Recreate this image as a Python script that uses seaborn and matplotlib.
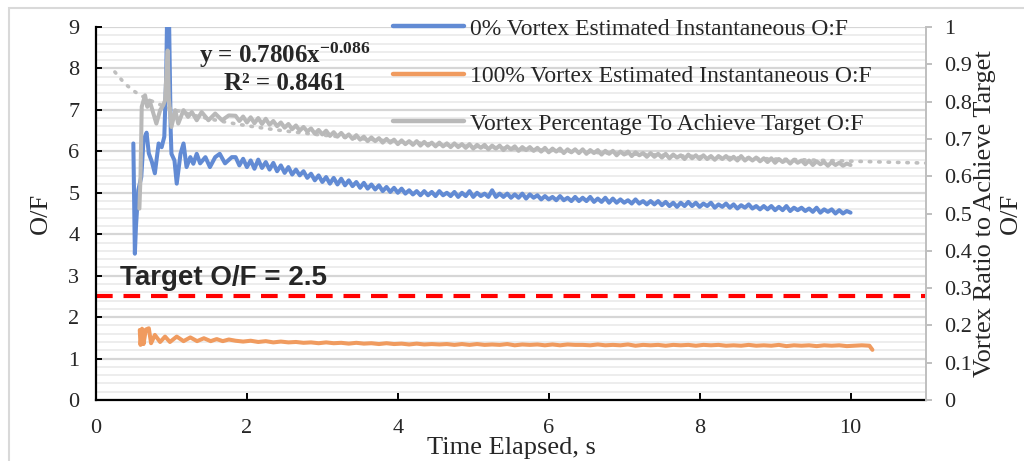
import numpy as np
import pandas as pd
import seaborn as sns
import matplotlib.pyplot as plt
from matplotlib.lines import Line2D
from matplotlib.patches import Rectangle
from matplotlib.ticker import MultipleLocator, FuncFormatter

# 0% vortex O:F - irregular start, then samples every 0.05 s from 1.85 s
BLUE_T0 = [0.495, 0.515, 0.53, 0.56, 0.60, 0.63, 0.67, 0.70, 0.74, 0.78, 0.83, 0.87,
           0.905, 0.93, 0.945, 0.965, 0.99, 1.0, 1.04, 1.07, 1.12, 1.16, 1.20, 1.25,
           1.29, 1.335, 1.38, 1.45, 1.51, 1.58, 1.64, 1.71, 1.80]
BLUE_Y0 = [6.19, 3.53, 4.20, 5.06, 5.38, 6.27, 6.45, 5.95, 5.75, 5.47, 6.19, 6.10,
           6.35, 7.80, 9.60, 9.60, 6.50, 5.94, 5.78, 5.22, 5.94, 6.19, 5.62, 5.86,
           5.70, 5.94, 5.71, 5.86, 5.62, 5.86, 5.94, 5.71, 5.86]
BLUE_Y = [5.86, 5.66, 5.82, 5.62, 5.78, 5.58, 5.80, 5.60, 5.74, 5.56,
          5.72, 5.52, 5.66, 5.48, 5.62, 5.44, 5.56, 5.42, 5.52, 5.36,
          5.46, 5.30, 5.42, 5.26, 5.38, 5.22, 5.36, 5.20, 5.34, 5.18,
          5.30, 5.16, 5.26, 5.12, 5.24, 5.10, 5.20, 5.08, 5.18, 5.04,
          5.14, 5.02, 5.12, 5.00, 5.10, 4.98, 5.06, 4.96, 5.04, 4.94,
          5.04, 4.94, 5.02, 4.92, 5.04, 4.94, 5.00, 4.92, 5.02, 4.90,
          5.00, 4.92, 5.04, 4.90, 5.00, 4.92, 4.98, 4.90, 5.06, 4.90,
          4.98, 4.90, 4.98, 4.88, 4.96, 4.88, 4.98, 4.86, 4.96, 4.88,
          4.94, 4.84, 4.92, 4.84, 4.90, 4.82, 4.92, 4.82, 4.88, 4.80,
          4.90, 4.80, 4.88, 4.80, 4.90, 4.78, 4.86, 4.78, 4.88, 4.76,
          4.86, 4.76, 4.84, 4.76, 4.82, 4.74, 4.84, 4.74, 4.80, 4.72,
          4.80, 4.72, 4.80, 4.70, 4.78, 4.68, 4.76, 4.66, 4.76, 4.68,
          4.78, 4.68, 4.76, 4.66, 4.74, 4.68, 4.76, 4.64, 4.72, 4.66,
          4.74, 4.64, 4.72, 4.62, 4.70, 4.64, 4.72, 4.62, 4.68, 4.60,
          4.68, 4.60, 4.68, 4.58, 4.66, 4.58, 4.68, 4.56, 4.64, 4.58,
          4.64, 4.56, 4.62, 4.54, 4.64, 4.52, 4.60, 4.54, 4.60, 4.50,
          4.58, 4.50, 4.56, 4.52]

# vortex ratio to hit target (secondary axis)
GRAY_T0 = [0.575, 0.59, 0.606, 0.65, 0.68, 0.71, 0.76, 0.80, 0.85, 0.89, 0.915,
           0.95, 0.965, 1.0, 1.05, 1.09, 1.16, 1.22, 1.27, 1.335, 1.40, 1.49, 1.58,
           1.67, 1.76]
GRAY_Y0 = [0.513, 0.600, 0.786, 0.817, 0.786, 0.803, 0.768, 0.741, 0.777, 0.790, 0.803,
           0.937, 0.810, 0.732, 0.777, 0.741, 0.777, 0.759, 0.772, 0.750, 0.772, 0.750,
           0.768, 0.750, 0.763]
GRAY_Y = [0.762, 0.748, 0.760, 0.744, 0.758, 0.742, 0.756, 0.740, 0.754, 0.738,
          0.748, 0.734, 0.744, 0.730, 0.740, 0.726, 0.736, 0.722, 0.732, 0.720,
          0.728, 0.714, 0.724, 0.712, 0.722, 0.708, 0.718, 0.706, 0.716, 0.704,
          0.712, 0.700, 0.710, 0.698, 0.706, 0.694, 0.704, 0.694, 0.702, 0.690,
          0.700, 0.690, 0.698, 0.686, 0.696, 0.686, 0.694, 0.684, 0.694, 0.682,
          0.692, 0.682, 0.690, 0.680, 0.690, 0.680, 0.688, 0.678, 0.688, 0.678,
          0.686, 0.676, 0.686, 0.674, 0.684, 0.676, 0.684, 0.672, 0.682, 0.674,
          0.682, 0.670, 0.680, 0.672, 0.680, 0.668, 0.678, 0.670, 0.678, 0.668,
          0.676, 0.666, 0.676, 0.664, 0.674, 0.666, 0.674, 0.662, 0.672, 0.664,
          0.672, 0.662, 0.672, 0.660, 0.670, 0.662, 0.670, 0.658, 0.668, 0.660,
          0.668, 0.656, 0.666, 0.658, 0.666, 0.654, 0.664, 0.656, 0.662, 0.652,
          0.662, 0.652, 0.660, 0.650, 0.660, 0.648, 0.658, 0.650, 0.656, 0.646,
          0.658, 0.648, 0.656, 0.646, 0.656, 0.646, 0.654, 0.644, 0.654, 0.646,
          0.654, 0.644, 0.652, 0.642, 0.654, 0.642, 0.650, 0.642, 0.650, 0.640,
          0.648, 0.638, 0.648, 0.636, 0.646, 0.638, 0.644, 0.634, 0.644, 0.636,
          0.642, 0.632, 0.642, 0.630, 0.640, 0.632, 0.638, 0.628, 0.638, 0.630,
          0.636, 0.628, 0.634, 0.630]

# 100% vortex O:F - irregular start, then every 0.1 s from 1.85 s
ORANGE_T0 = [0.58, 0.59, 0.61, 0.63, 0.66, 0.70, 0.73, 0.78, 0.85, 0.915, 0.98,
             1.07, 1.16, 1.25, 1.34, 1.43, 1.52, 1.60, 1.68, 1.76]
ORANGE_Y0 = [1.69, 1.33, 1.72, 1.35, 1.70, 1.73, 1.37, 1.57, 1.40, 1.53, 1.40,
             1.53, 1.42, 1.51, 1.42, 1.49, 1.42, 1.47, 1.42, 1.46]
ORANGE_Y = [1.43, 1.41, 1.43, 1.40, 1.42, 1.39, 1.41, 1.39, 1.40, 1.38,
            1.39, 1.37, 1.39, 1.37, 1.38, 1.36, 1.38, 1.36, 1.37, 1.35,
            1.37, 1.35, 1.36, 1.34, 1.36, 1.34, 1.35, 1.34, 1.35, 1.33,
            1.35, 1.33, 1.35, 1.33, 1.34, 1.33, 1.35, 1.32, 1.34, 1.33,
            1.34, 1.32, 1.34, 1.32, 1.34, 1.33, 1.33, 1.32, 1.34, 1.32,
            1.33, 1.32, 1.34, 1.31, 1.33, 1.32, 1.33, 1.31, 1.33, 1.32,
            1.33, 1.31, 1.33, 1.32, 1.33, 1.31, 1.32, 1.31, 1.33, 1.31,
            1.32, 1.31, 1.33, 1.30, 1.32, 1.31, 1.32, 1.30, 1.32, 1.31,
            1.32, 1.30, 1.31, 1.32, 1.31]
ORANGE_T_END = [10.29]
ORANGE_Y_END = [1.21]

# Excel power trendline of the gray series
TREND_A = 0.7806
TREND_B = -0.086
TREND_X = np.linspace(0.25, 11, 80)
TARGET_OF = 2.5

LABELS = ['0% Vortex Estimated Instantaneous O:F',
          '100% Vortex Estimated Instantaneous O:F',
          'Vortex Percentage To Achieve Target O:F']
BLUE, ORANGE, GRAY = '#628BD4', '#F09B5F', '#B9B9B9'


def series(t0, y0, y, start, step, t_end=(), y_end=()):
    t = np.round(start + step * np.arange(len(y)), 3)
    return pd.DataFrame({'t': list(t0) + list(t) + list(t_end),
                         'v': list(y0) + list(y) + list(y_end)})


df_blue = series(BLUE_T0, BLUE_Y0, BLUE_Y, 1.85, 0.05)
df_gray = series(GRAY_T0, GRAY_Y0, GRAY_Y, 1.85, 0.05)
df_orange = series(ORANGE_T0, ORANGE_Y0, ORANGE_Y, 1.85, 0.1, ORANGE_T_END, ORANGE_Y_END)
df_trend = pd.DataFrame({'t': TREND_X, 'v': TREND_A * TREND_X ** TREND_B})

sns.set_style('white')
plt.rcParams['font.family'] = ['Liberation Serif', 'DejaVu Sans']
plt.rcParams['mathtext.fontset'] = 'custom'
plt.rcParams['mathtext.rm'] = 'Liberation Serif:bold'
plt.rcParams['mathtext.bf'] = 'Liberation Serif:bold'
plt.rcParams['mathtext.it'] = 'Liberation Serif:bold:italic'

fig = plt.figure(figsize=(10.24, 4.61), dpi=100)
fig.patches.append(Rectangle((9 / 1024, -0.1), 1.2, 1.1 - 8 / 461, transform=fig.transFigure,
                             fill=False, edgecolor='#D9D9D9', lw=1.5))
ax = fig.add_axes([96 / 1024, 61 / 461, 830 / 1024, 373 / 461])
ax2 = ax.twinx()

sns.lineplot(data=df_blue, x='t', y='v', color=BLUE, lw=2.9, sort=False, estimator=None, ax=ax)
sns.lineplot(data=df_orange, x='t', y='v', color=ORANGE, lw=2.9, sort=False, estimator=None, ax=ax)
ax.axhline(TARGET_OF, color='red', lw=3, dashes=(4, 2.6))
sns.lineplot(data=df_trend, x='t', y='v', color='#BFBFBF', lw=2.6, ax=ax2,
             linestyle=(0, (0.4, 2.2)), dash_capstyle='round')
sns.lineplot(data=df_gray, x='t', y='v', color=GRAY, lw=2.9, sort=False, estimator=None, ax=ax2)

ax.set_xlim(0, 11)
ax.set_ylim(0, 9)
ax2.set_ylim(0, 1)
ax.set_xticks(range(0, 11, 2))
ax.yaxis.set_major_locator(MultipleLocator(1))
ax.yaxis.set_minor_locator(MultipleLocator(0.2))
ax2.yaxis.set_major_locator(MultipleLocator(0.1))
ax2.yaxis.set_major_formatter(FuncFormatter(lambda v, _: f'{round(v, 1):g}'))

ax.set_axisbelow(True)
ax.grid(which='major', axis='y', color='#D6D6D6', lw=1.6)
ax.grid(which='minor', axis='y', color='#EDEDED', lw=1.4)
ax.grid(axis='x', visible=False)

for s in ['top', 'right']:
    ax.spines[s].set_visible(False)
for s in ['left', 'bottom']:
    ax.spines[s].set_color('black')
    ax.spines[s].set_linewidth(1.6)
for s in ['top', 'left', 'bottom']:
    ax2.spines[s].set_visible(False)
ax2.spines['right'].set_color('#BFBFBF')
ax2.spines['right'].set_linewidth(1.4)

ax.tick_params(axis='y', which='major', direction='in', length=4, width=1.4, color='black',
               labelsize=16, pad=12, left=True)
ax.tick_params(axis='y', which='minor', length=0)
ax.tick_params(axis='x', direction='in', length=5, width=1.4, color='black',
               labelsize=16, pad=14, bottom=True)
ax2.tick_params(axis='y', direction='out', length=4, width=1.4, color='#BFBFBF',
                labelsize=16, pad=9, right=True)

ax.set_xlabel('Time Elapsed, s', fontsize=19, labelpad=-1)
ax.set_ylabel('O/F', fontsize=19, labelpad=12)
ax2.set_ylabel('Vortex Ratio to Achieve Target\nO/F', fontsize=19)
ax2.yaxis.set_label_coords(1.058, 0.5)

ax.text(0.32, 2.95, 'Target O/F = 2.5', family='Liberation Sans', fontweight='bold',
        fontsize=20, va='center', ha='left')
ax.text(2.5, 8.02, 'y = 0.7806x$^{-0.086}$\nR² = 0.8461', fontweight='bold', fontsize=18,
        ha='center', va='center', linespacing=1.1)

handles = [Line2D([], [], color=c, lw=3.2) for c in (BLUE, ORANGE, GRAY)]
ax2.legend(handles, LABELS, loc='upper left', bbox_to_anchor=(393 / 1024, 1 - 18 / 461),
           bbox_transform=fig.transFigure, frameon=False, fontsize=17, handlelength=3.0,
           handletextpad=0.25, labelspacing=1.1, borderpad=0, borderaxespad=0)

fig.savefig('out.png', dpi=100)
